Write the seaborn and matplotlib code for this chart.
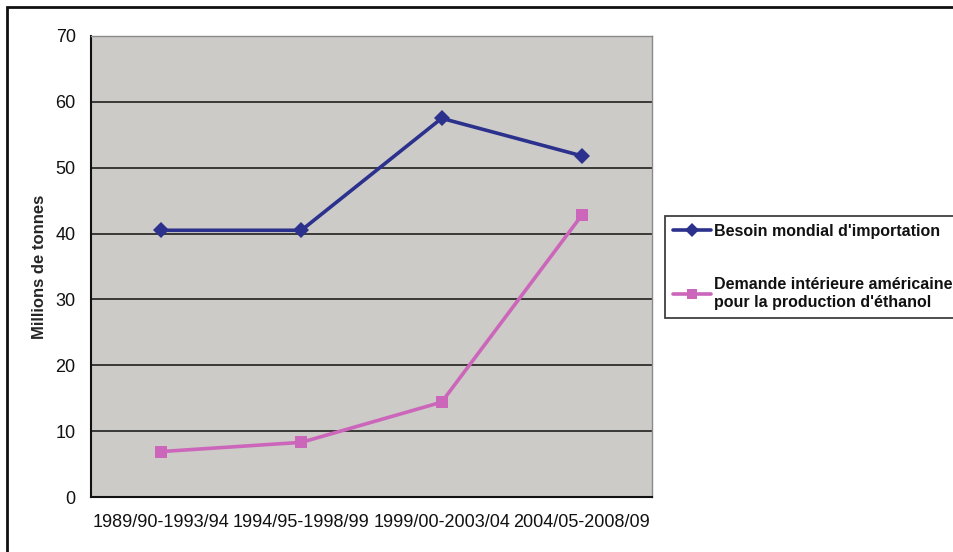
import matplotlib
matplotlib.use("Agg")
import matplotlib.pyplot as plt
from matplotlib.patches import Rectangle
from matplotlib.ticker import FixedLocator, NullFormatter
import seaborn as sns
import pandas as pd

periods = ["1989/90-1993/94", "1994/95-1998/99", "1999/00-2003/04", "2004/05-2008/09"]
besoin_import = [40.5, 40.5, 57.5, 51.8]
demande_ethanol = [6.9, 8.3, 14.4, 42.8]
series_names = ["Besoin mondial d'importation",
                "Demande intérieure américaine\npour la production d'éthanol"]
y_ticks = [0, 10, 20, 30, 40, 50, 60, 70]

sns.set_theme(style="white")
plt.rcParams["font.family"] = ["Liberation Sans", "DejaVu Sans"]
plt.rcParams["text.color"] = "#111111"
plt.rcParams["xtick.color"] = "#111111"
plt.rcParams["ytick.color"] = "#111111"

df = pd.DataFrame({
    "pos": list(range(len(periods))) * 2,
    "valeur": besoin_import + demande_ethanol,
    "serie": [series_names[0]] * len(periods) + [series_names[1]] * len(periods),
})

colors = {series_names[0]: "#2B318C", series_names[1]: "#CC66BB"}
markers = {series_names[0]: "D", series_names[1]: "s"}

fig = plt.figure(figsize=(9.54, 5.52), dpi=100)
ax = fig.add_axes([91 / 954, 1 - 497 / 552, (652 - 91) / 954, (497 - 36) / 552])
ax.set_facecolor("#CDCBC8")

sns.lineplot(data=df, x="pos", y="valeur", hue="serie", style="serie",
             palette=colors, markers=markers, dashes=False, linewidth=2.6,
             markersize=8, markeredgewidth=0, ax=ax, legend=False)

ax.set_xlim(-0.5, len(periods) - 0.5)
ax.set_ylim(0, 70)
ax.set_yticks(y_ticks)
ax.set_yticklabels([str(t) for t in y_ticks], fontsize=13)
ax.yaxis.grid(True, color="#111111", linewidth=1.1)
ax.set_axisbelow(True)

ax.set_xticks(range(len(periods)))
ax.set_xticklabels(periods, fontsize=13)
ax.xaxis.set_minor_locator(FixedLocator([i - 0.5 for i in range(len(periods) + 1)]))
ax.xaxis.set_minor_formatter(NullFormatter())
ax.tick_params(axis="x", which="major", length=0, pad=12)
ax.tick_params(axis="x", which="minor", length=6, width=1.3, color="#111111", direction="out")
ax.tick_params(axis="y", length=5, width=1.1, color="#111111", direction="out", pad=6)

ax.set_xlabel("")
ax.set_ylabel("Millions de tonnes", fontsize=12, fontweight="bold", labelpad=6)

for side in ["left", "bottom"]:
    ax.spines[side].set_color("#111111")
    ax.spines[side].set_linewidth(1.5)
for side in ["top", "right"]:
    ax.spines[side].set_color("#8A8A8A")
    ax.spines[side].set_linewidth(1.0)

# Legend box to the right of the plot area
handles = [plt.Line2D([], [], color=colors[s], marker=markers[s], linewidth=2.6,
                      markersize=7, markeredgewidth=0) for s in series_names]
leg = fig.legend(handles, series_names, loc="upper left",
                 bbox_to_anchor=(665 / 954, 1 - 216 / 552),
                 frameon=True, fancybox=False, edgecolor="#111111",
                 prop={"family": ["Liberation Sans", "DejaVu Sans"], "size": 11.5,
                       "weight": "bold"},
                 handlelength=2.4, handletextpad=0.15, labelspacing=2.4,
                 borderpad=0.5, borderaxespad=0)
leg.get_frame().set_linewidth(1.3)

# Outer frame around the whole chart
fig.patches.append(Rectangle((7 / 954, -0.05), 1.1, 1 - 7 / 552 + 0.05,
                             transform=fig.transFigure, fill=False,
                             edgecolor="#111111", linewidth=2.0))

fig.savefig("out.png", dpi=100, facecolor="white")
